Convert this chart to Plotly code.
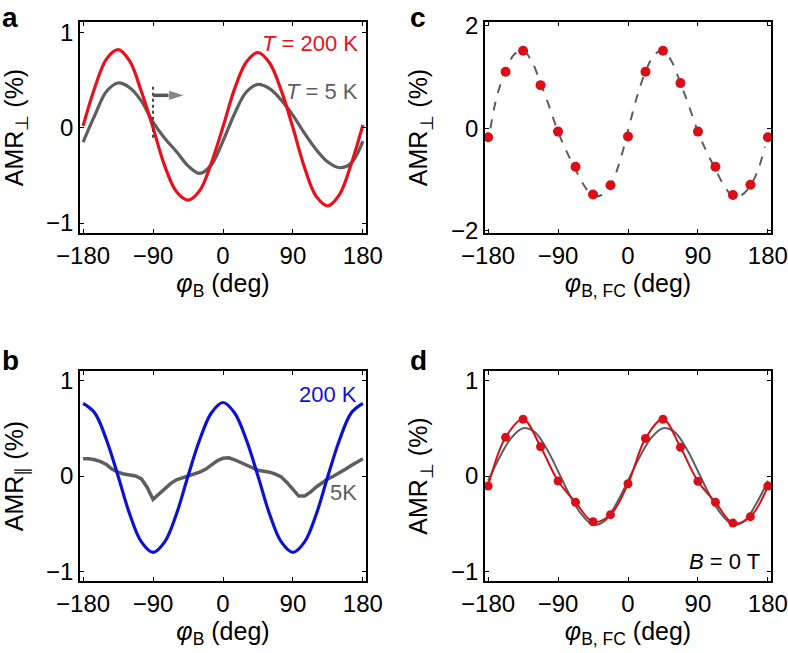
import plotly.graph_objects as go

FONT = "Liberation Sans, Arial, Helvetica, sans-serif"

# ---------------- data ----------------
# panel a : AMR_perp vs phi_B (15 deg steps)
phi_a = [-180, -165, -150, -135, -120, -105, -90, -75, -60, -45, -30, -15, 0,
         15, 30, 45, 60, 75, 90, 105, 120, 135, 150, 165, 180]
a_200K = [0.02, 0.42, 0.72, 0.82, 0.70, 0.38, 0.00, -0.40, -0.67, -0.76, -0.66, -0.37, 0.01,
          0.41, 0.69, 0.79, 0.68, 0.39, 0.00, -0.42, -0.72, -0.82, -0.70, -0.38, 0.03]
a_5K = [-0.15, 0.13, 0.38, 0.47, 0.42, 0.28, 0.06, -0.11, -0.25, -0.40, -0.48, -0.39, -0.14,
        0.15, 0.375, 0.455, 0.41, 0.29, 0.13, -0.06, -0.23, -0.36, -0.42, -0.37, -0.14]
# marker at phi = -90 with arrow to the right
a_mark_x = [-90, -90]
a_mark_y = [0.43, -0.11]
a_arrow_x = [-90, -49]
a_arrow_y = [0.34, 0.34]

# panel b : AMR_par vs phi_B
phi_b = [-180, -165, -150, -135, -120, -105, -90, -75, -60, -45, -30, -15, 0,
         15, 30, 45, 60, 75, 90, 105, 120, 135, 150, 165, 180]
b_200K = [0.76, 0.66, 0.38, 0.00, -0.40, -0.69, -0.80, -0.69, -0.40, 0.00, 0.38, 0.66, 0.77,
          0.66, 0.38, 0.00, -0.40, -0.69, -0.80, -0.69, -0.40, 0.00, 0.38, 0.66, 0.76]
phi_b5 = [-180, -172.5, -165, -157.5, -150, -142.5, -135, -127.5, -120, -112.5, -105, -97.5,
          -90, -82.5, -75, -67.5, -60, -52.5, -45, -37.5, -30, -22.5, -15, -7.5,
          0, 7.5, 15, 22.5, 30, 37.5, 45, 52.5, 60, 67.5, 75, 82.5,
          90, 97.5, 105, 112.5, 120, 127.5, 135, 142.5, 150, 157.5, 165, 172.5, 180]
b_5K = [0.18, 0.18, 0.17, 0.15, 0.12, 0.07, 0.04, 0.02, 0.01, 0.00, -0.03, -0.12,
        -0.245, -0.19, -0.13, -0.08, -0.04, -0.02, 0.00, 0.02, 0.04, 0.07, 0.11, 0.16,
        0.185, 0.19, 0.17, 0.14, 0.11, 0.08, 0.06, 0.05, 0.04, 0.02, -0.01, -0.07,
        -0.14, -0.21, -0.21, -0.17, -0.115, -0.07, -0.03, 0.00, 0.03, 0.07, 0.11, 0.15, 0.18]

# panel c : field-cooled AMR_perp points and fit
phi_fc = [-180, -157.5, -135, -112.5, -90, -67.5, -45, -22.5, 0,
          22.5, 45, 67.5, 90, 112.5, 135, 157.5, 180]
c_pts = [-0.175, 1.10, 1.51, 0.84, -0.065, -0.75, -1.29, -1.11, -0.16,
         1.10, 1.51, 0.88, -0.065, -0.75, -1.30, -1.10, -0.175]
phi_cfit = [-177, -168.75, -157.5, -146.25, -135, -123.75, -112.5, -101.25, -90, -78.75, -67.5,
            -56.25, -45, -33.75, -22.5, -11.25, 0, 11.25, 22.5, 33.75, 45, 56.25, 67.5,
            78.75, 90, 101.25, 112.5, 123.75, 135, 146.25, 157.5, 168.75, 176]
c_fit = [0.00, 0.62, 1.12, 1.44, 1.52, 1.30, 0.88, 0.42, -0.07, -0.46, -0.80, -1.12, -1.32,
         -1.30, -1.12, -0.68, -0.05, 0.60, 1.10, 1.43, 1.52, 1.30, 0.88, 0.42, -0.07,
         -0.46, -0.80, -1.12, -1.32, -1.30, -1.12, -0.75, -0.36]

# panel d : B = 0 T
d_pts = [-0.105, 0.405, 0.595, 0.306, -0.053, -0.275, -0.479, -0.405, -0.081,
         0.394, 0.595, 0.30, -0.056, -0.275, -0.493, -0.426, -0.105]
phi_d = [-180, -165, -150, -135, -120, -105, -90, -75, -60, -45, -30, -15, 0,
         15, 30, 45, 60, 75, 90, 105, 120, 135, 150, 165, 180]
d_ref = [-0.05, 0.20, 0.40, 0.50, 0.46, 0.29, 0.05, -0.20, -0.40, -0.51, -0.47, -0.29, -0.05,
         0.20, 0.40, 0.50, 0.46, 0.29, 0.05, -0.20, -0.40, -0.51, -0.47, -0.29, -0.05]

x_ticks = [-180, -90, 0, 90, 180]
x_ticktext = ["\u2212180", "\u221290", "0", "90", "180"]

RED = "#e8101a"
GRAY = "#5e5e5e"
BLUE = "#0d12d2"
DOTRED = "#d90f18"

fig = go.Figure()

# a
fig.add_trace(go.Scatter(x=phi_a, y=a_5K, mode="lines", line=dict(color=GRAY, width=3.2, shape="spline", smoothing=1.0),
                         xaxis="x", yaxis="y", showlegend=False))
fig.add_trace(go.Scatter(x=phi_a, y=a_200K, mode="lines", line=dict(color=RED, width=3.2, shape="spline"),
                         xaxis="x", yaxis="y", showlegend=False))
fig.add_trace(go.Scatter(x=a_mark_x, y=a_mark_y, mode="lines", line=dict(color="#444444", width=2, dash="dot"),
                         xaxis="x", yaxis="y", showlegend=False))
fig.add_trace(go.Scatter(x=a_arrow_x, y=a_arrow_y, mode="lines+markers",
                         line=dict(color="#555555", width=3.5),
                         marker=dict(symbol="arrow", angleref="previous", size=[0, 17], color="#555555"),
                         xaxis="x", yaxis="y", showlegend=False))
# b
fig.add_trace(go.Scatter(x=phi_b5, y=b_5K, mode="lines", line=dict(color=GRAY, width=3.5),
                         xaxis="x3", yaxis="y3", showlegend=False))
fig.add_trace(go.Scatter(x=phi_b, y=b_200K, mode="lines", line=dict(color=BLUE, width=3.2, shape="spline"),
                         xaxis="x3", yaxis="y3", showlegend=False))
# c
fig.add_trace(go.Scatter(x=phi_cfit, y=c_fit, mode="lines", line=dict(color=GRAY, width=2, dash="dash", shape="spline"),
                         xaxis="x2", yaxis="y2", showlegend=False))
fig.add_trace(go.Scatter(x=phi_fc, y=c_pts, mode="markers", marker=dict(color=DOTRED, size=10),
                         xaxis="x2", yaxis="y2", showlegend=False, cliponaxis=False))
# d
fig.add_trace(go.Scatter(x=phi_d, y=d_ref, mode="lines", line=dict(color=GRAY, width=2, shape="spline"),
                         xaxis="x4", yaxis="y4", showlegend=False))
fig.add_trace(go.Scatter(x=phi_fc, y=d_pts, mode="lines+markers", line=dict(color=DOTRED, width=2, shape="spline"),
                         marker=dict(color=DOTRED, size=9),
                         xaxis="x4", yaxis="y4", showlegend=False, cliponaxis=False))

def xax(domain, anchor, title):
    return dict(domain=domain, anchor=anchor, range=[-184, 184], tickvals=x_ticks, ticktext=x_ticktext,
                ticks="inside", ticklen=4, tickwidth=1.3, tickcolor="black",
                showline=True, linecolor="black", linewidth=1.5, mirror="ticks",
                showgrid=False, zeroline=False, automargin=False,
                tickfont=dict(family=FONT, size=24, color="black"),
                title=dict(text=title, font=dict(family=FONT, size=25, color="black"), standoff=6))

def yax(domain, anchor, rng, tv, title):
    return dict(domain=domain, anchor=anchor, range=rng, tickvals=tv,
                ticktext=[("\u2212" + str(-v)) if v < 0 else str(v) for v in tv],
                ticks="inside", ticklen=4, tickwidth=1.3, tickcolor="black",
                showline=True, linecolor="black", linewidth=1.5, mirror="ticks",
                showgrid=False, zeroline=False, automargin=False,
                tickfont=dict(family=FONT, size=24, color="black"),
                title=dict(text=title, font=dict(family=FONT, size=25, color="black"), standoff=16))

XL = [80 / 788, 366 / 788]
XR = [485 / 788, 771 / 788]
YT = [1 - 233 / 653, 1 - 22 / 653]
YB = [1 - 581 / 653, 1 - 371 / 653]

xt_B = "<i>\u03c6</i><sub>B</sub> (deg)"
xt_FC = "<i>\u03c6</i><sub>B, FC</sub> (deg)"
yt_perp = "AMR<sub>\u22a5</sub> (%)"
yt_par = "AMR<sub>\u2225</sub> (%)"

fig.update_layout(
    width=788, height=653, margin=dict(l=0, r=0, t=0, b=0, autoexpand=False),
    paper_bgcolor="white", plot_bgcolor="white",
    font=dict(family=FONT, color="black"),
    xaxis=xax(XL, "y", xt_B),
    yaxis=yax(YT, "x", [-1.105, 1.11], [-1, 0, 1], yt_perp),
    xaxis2=xax(XR, "y2", xt_FC),
    yaxis2=yax(YT, "x2", [-2.04, 2.07], [-2, 0, 2], yt_perp),
    xaxis3=xax(XL, "y3", xt_B),
    yaxis3=yax(YB, "x3", [-1.1, 1.1], [-1, 0, 1], yt_par),
    xaxis4=xax(XR, "y4", xt_FC),
    yaxis4=yax(YB, "x4", [-1.1, 1.1], [-1, 0, 1], yt_perp),
)

ann = []
# panel letters
for lab, x, y in [("a", 0, 0), ("c", 408, 0), ("b", 0, 343), ("d", 408, 343)]:
    ann.append(dict(text="<b>%s</b>" % lab, xref="paper", yref="paper", x=x / 788, y=1 - y / 653,
                    xanchor="left", yanchor="top", showarrow=False,
                    font=dict(family=FONT, size=28, color="black")))
# in-plot labels
ann.append(dict(text="<i>T</i> = 200 K", xref="x domain", yref="y domain", x=0.98, y=0.90,
                xanchor="right", yanchor="middle", showarrow=False, font=dict(family=FONT, size=22, color=RED)))
ann.append(dict(text="<i>T</i> = 5 K", xref="x domain", yref="y domain", x=0.98, y=0.67,
                xanchor="right", yanchor="middle", showarrow=False, font=dict(family=FONT, size=22, color=GRAY)))
ann.append(dict(text="200 K", xref="x3 domain", yref="y3 domain", x=0.975, y=0.89,
                xanchor="right", yanchor="middle", showarrow=False, font=dict(family=FONT, size=22, color=BLUE)))
ann.append(dict(text="5K", xref="x3 domain", yref="y3 domain", x=0.975, y=0.42,
                xanchor="right", yanchor="middle", showarrow=False, font=dict(family=FONT, size=22, color=GRAY)))
ann.append(dict(text="<i>B</i> = 0 T", xref="x4 domain", yref="y4 domain", x=0.97, y=0.095,
                xanchor="right", yanchor="middle", showarrow=False, font=dict(family=FONT, size=22, color="black")))
fig.update_layout(annotations=ann)

fig.write_html("out.html", config={"displayModeBar": False},
               post_script="document.body.style.margin='0px';document.body.style.overflow='hidden';")
